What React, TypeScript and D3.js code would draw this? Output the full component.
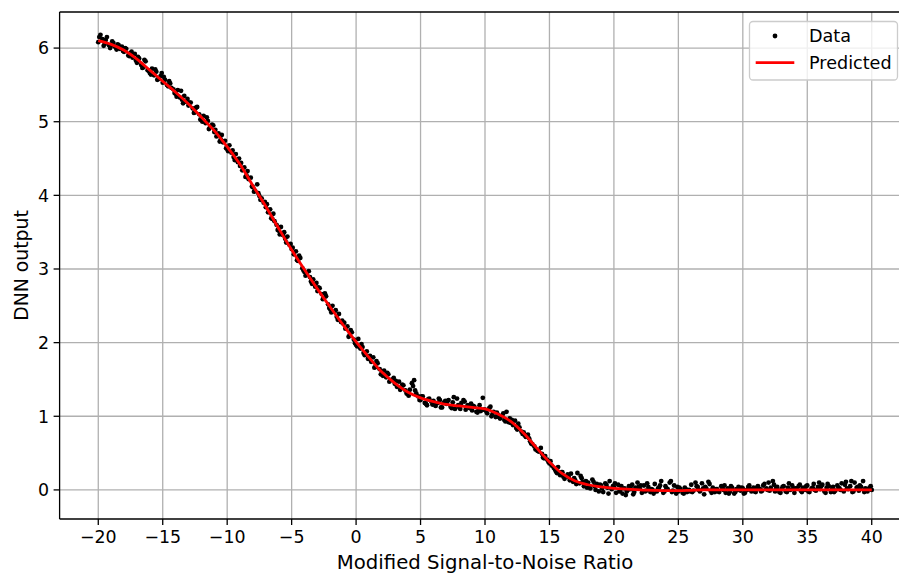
import React from "react";
import * as d3 from "d3";

// Measured samples: x = modified SNR, y = network output
const dataX: number[] = [];
const dataY: number[] = [];

const sampleUnits = [
  -20, -19, -18, -17, -16, -15, -14, -13, -12, -11, -10, -9, -8, -7, -6, -5, -4, -3, -2, -1,
  0, 1, 2, 3, 4, 5, 6, 7, 8, 9, 10, 11, 12, 13, 14, 15, 16, 17, 18, 19,
  20, 21, 22, 23, 24, 25, 26, 27, 28, 29, 30, 31, 32, 33, 34, 35, 36, 37, 38, 39,
];

// First sweep: six samples per unit of SNR
const sweepAOffsets = [0, 0.17, 0.33, 0.5, 0.67, 0.83];
const sweepA: number[][] = [
  [6.08, 6.18, 6.12, 6.06, 6.15, 6.04],
  [6.03, 6.07, 6.01, 6.05, 5.99, 6.02],
  [5.95, 5.99, 5.90, 5.93, 5.87, 5.92],
  [5.80, 5.86, 5.77, 5.74, 5.82, 5.70],
  [5.66, 5.72, 5.63, 5.68, 5.58, 5.62],
  [5.53, 5.57, 5.50, 5.55, 5.46, 5.44],
  [5.38, 5.43, 5.33, 5.30, 5.35, 5.27],
  [5.22, 5.26, 5.18, 5.13, 5.20, 5.10],
  [5.02, 5.08, 4.98, 5.01, 4.93, 4.96],
  [4.86, 4.80, 4.84, 4.76, 4.72, 4.74],
  [4.63, 4.68, 4.58, 4.52, 4.56, 4.45],
  [4.40, 4.34, 4.38, 4.27, 4.22, 4.24],
  [4.11, 4.06, 4.15, 3.99, 3.96, 3.90],
  [3.84, 3.77, 3.81, 3.68, 3.65, 3.60],
  [3.52, 3.57, 3.46, 3.41, 3.44, 3.33],
  [3.27, 3.20, 3.24, 3.11, 3.15, 3.01],
  [2.96, 2.93, 2.97, 2.83, 2.86, 2.76],
  [2.70, 2.74, 2.66, 2.60, 2.63, 2.52],
  [2.45, 2.50, 2.42, 2.35, 2.39, 2.28],
  [2.26, 2.19, 2.22, 2.10, 2.14, 2.04],
  [1.97, 2.05, 1.92, 1.94, 1.83, 1.88],
  [1.78, 1.74, 1.80, 1.67, 1.72, 1.64],
  [1.58, 1.62, 1.53, 1.57, 1.49, 1.50],
  [1.44, 1.40, 1.47, 1.38, 1.42, 1.35],
  [1.30, 1.36, 1.45, 1.49, 1.31, 1.27],
  [1.22, 1.27, 1.18, 1.15, 1.24, 1.20],
  [1.21, 1.14, 1.18, 1.22, 1.12, 1.19],
  [1.17, 1.22, 1.13, 1.19, 1.10, 1.24],
  [1.12, 1.18, 1.22, 1.09, 1.15, 1.11],
  [1.08, 1.13, 1.06, 1.10, 1.07, 1.25],
  [1.09, 1.04, 1.11, 1.00, 1.06, 0.99],
  [1.02, 0.97, 1.01, 0.95, 1.06, 0.92],
  [0.91, 0.88, 0.94, 0.82, 0.85, 0.79],
  [0.78, 0.72, 0.75, 0.66, 0.62, 0.59],
  [0.55, 0.52, 0.57, 0.44, 0.46, 0.41],
  [0.36, 0.33, 0.30, 0.25, 0.31, 0.20],
  [0.24, 0.15, 0.19, 0.17, 0.22, 0.11],
  [0.13, 0.23, 0.09, 0.16, 0.05, 0.12],
  [0.10, 0.02, 0.14, 0.05, 0.08, -0.02],
  [0.06, -0.03, 0.09, 0.03, 0.12, 0.01],
  [0.04, -0.04, 0.07, 0.00, -0.05, 0.02],
  [-0.02, 0.05, 0.01, -0.06, 0.03, 0.10],
  [0.02, -0.04, 0.06, -0.01, 0.04, -0.03],
  [0.00, 0.08, -0.02, 0.03, 0.12, -0.04],
  [0.05, 0.01, 0.10, -0.03, 0.06, -0.05],
  [-0.02, 0.01, -0.04, 0.03, -0.03, 0.00],
  [0.07, -0.01, 0.10, 0.04, -0.02, 0.09],
  [-0.06, 0.02, 0.11, -0.01, 0.03, -0.03],
  [0.01, -0.03, 0.05, 0.00, -0.04, 0.02],
  [-0.02, 0.03, -0.05, 0.01, 0.04, -0.01],
  [0.02, -0.04, 0.00, 0.06, -0.02, 0.03],
  [-0.03, 0.05, 0.01, -0.01, 0.08, 0.02],
  [0.10, 0.03, 0.12, -0.02, 0.04, -0.03],
  [0.01, 0.05, -0.02, 0.03, 0.00, 0.06],
  [-0.04, 0.02, 0.05, -0.01, 0.03, 0.00],
  [0.06, -0.03, 0.02, 0.08, -0.01, 0.04],
  [0.01, 0.07, -0.02, 0.03, 0.05, -0.03],
  [0.04, -0.01, 0.06, 0.02, 0.09, -0.02],
  [0.11, 0.01, 0.05, -0.03, 0.10, 0.03],
  [-0.01, 0.04, 0.12, 0.02, -0.02, 0.03],
];

// Second sweep: four samples per unit of SNR, interleaved with the first
const sweepBOffsets = [0.08, 0.42, 0.58, 0.92];
const sweepB: number[][] = [
  [6.15, 6.03, 6.11, 6.00],
  [6.09, 5.98, 6.04, 5.96],
  [6.00, 5.89, 5.95, 5.83],
  [5.88, 5.73, 5.84, 5.69],
  [5.64, 5.71, 5.57, 5.66],
  [5.61, 5.48, 5.52, 5.39],
  [5.34, 5.42, 5.25, 5.31],
  [5.26, 5.12, 5.19, 5.03],
  [5.00, 5.06, 4.90, 4.95],
  [4.89, 4.73, 4.82, 4.64],
  [4.60, 4.61, 4.48, 4.50],
  [4.44, 4.25, 4.33, 4.12],
  [4.05, 4.03, 3.94, 3.91],
  [3.88, 3.69, 3.75, 3.53],
  [3.47, 3.50, 3.36, 3.34],
  [3.29, 3.12, 3.18, 2.98],
  [2.91, 2.89, 2.80, 2.81],
  [2.75, 2.59, 2.67, 2.47],
  [2.41, 2.44, 2.31, 2.30],
  [2.27, 2.08, 2.17, 1.99],
  [1.95, 1.98, 1.86, 1.78],
  [1.82, 1.66, 1.75, 1.57],
  [1.55, 1.59, 1.47, 1.52],
  [1.48, 1.36, 1.43, 1.31],
  [1.28, 1.41, 1.35, 1.22],
  [1.27, 1.17, 1.23, 1.16],
  [1.16, 1.24, 1.12, 1.21],
  [1.20, 1.11, 1.26, 1.15],
  [1.10, 1.20, 1.13, 1.17],
  [1.14, 1.05, 1.15, 1.09],
  [1.07, 1.13, 1.03, 1.05],
  [0.99, 1.04, 0.93, 0.97],
  [0.95, 0.84, 0.90, 0.76],
  [0.74, 0.70, 0.63, 0.55],
  [0.53, 0.49, 0.43, 0.38],
  [0.39, 0.28, 0.23, 0.24],
  [0.18, 0.21, 0.13, 0.16],
  [0.08, 0.19, 0.11, 0.03],
  [0.04, 0.11, 0.00, 0.07],
  [0.02, 0.07, -0.05, 0.05],
  [0.09, -0.02, 0.05, -0.07],
  [0.00, 0.07, -0.03, 0.04],
  [0.06, -0.02, 0.09, 0.01],
  [-0.05, 0.02, 0.06, -0.02],
  [0.02, 0.12, -0.01, 0.04],
  [0.03, -0.05, 0.01, -0.02],
  [-0.03, 0.05, 0.00, 0.02],
  [0.04, 0.08, -0.04, 0.01],
  [-0.02, 0.02, 0.06, -0.05],
  [0.05, -0.03, 0.00, 0.03],
  [-0.05, 0.04, 0.01, -0.02],
  [0.03, -0.02, 0.06, 0.00],
  [-0.01, 0.07, 0.02, -0.04],
  [0.04, -0.03, 0.09, 0.02],
  [0.02, 0.07, -0.03, 0.05],
  [-0.02, 0.03, 0.00, 0.10],
  [0.05, -0.04, 0.08, 0.01],
  [-0.03, 0.03, 0.00, 0.07],
  [0.02, 0.12, -0.02, 0.04],
  [0.06, -0.03, 0.01, 0.05],
];
const lastSample = { x: 40, y: 0.0 };

sampleUnits.forEach((u, i) => {
  sweepAOffsets.forEach((o, j) => {
    dataX.push(u + o);
    dataY.push(sweepA[i][j]);
  });
  sweepBOffsets.forEach((o, j) => {
    dataX.push(u + o);
    dataY.push(sweepB[i][j]);
  });
});
dataX.push(lastSample.x);
dataY.push(lastSample.y);

// Network prediction, sampled once per unit of SNR
const predX = [
  -20, -19, -18, -17, -16, -15, -14, -13, -12, -11, -10, -9, -8, -7, -6, -5, -4, -3, -2, -1,
  0, 1, 2, 3, 4, 5, 6, 7, 8, 9, 10, 11, 12, 13, 14, 15, 16, 17, 18, 19,
  20, 21, 22, 23, 24, 25, 26, 27, 28, 29, 30, 31, 32, 33, 34, 35, 36, 37, 38, 39, 40,
];
const predY = [
  6.1, 6.05, 5.97, 5.85, 5.7, 5.55, 5.4, 5.24, 5.06, 4.88, 4.66, 4.42, 4.13, 3.85, 3.55, 3.26, 2.99, 2.73, 2.48, 2.24,
  2.01, 1.8, 1.6, 1.45, 1.33, 1.25, 1.2, 1.16, 1.14, 1.12, 1.1, 1.03, 0.93, 0.77, 0.57, 0.38, 0.22, 0.12, 0.07, 0.04,
  0.02, 0.01, 0.0, -0.005, -0.01, -0.01, -0.005, 0.0, 0.0, 0.0, 0.0, 0.0, 0.0, 0.0, 0.0, 0.0, 0.0, 0.0, 0.0, 0.0, 0.0,
];

const xTicks = [-20, -15, -10, -5, 0, 5, 10, 15, 20, 25, 30, 35, 40];
const yTicks = [0, 1, 2, 3, 4, 5, 6];
const legendLabels = ["Data", "Predicted"];

const W = 899;
const H = 575;
const plot = { left: 59.6, right: 910.4, top: 12, bottom: 519 };
const FONT = "'DejaVu Sans', sans-serif";

export default function App() {
  const x = d3.scaleLinear().domain([-23, 43]).range([plot.left, plot.right]);
  const y = d3.scaleLinear().domain([-0.395, 6.49]).range([plot.bottom, plot.top]);

  const line = d3
    .line<number>()
    .x((_, i) => x(predX[i]))
    .y((d) => y(d))
    .curve(d3.curveCatmullRom.alpha(0.5));

  const fmt = (v: number) => (v < 0 ? "\u2212" + Math.abs(v) : String(v));

  return (
    <svg
      width={W}
      height={H}
      style={{ position: "absolute", left: 0, top: 0, display: "block", background: "#fff" }}
      fontFamily={FONT}
    >
      <defs>
        <clipPath id="plotArea">
          <rect x={plot.left} y={plot.top} width={plot.right - plot.left} height={plot.bottom - plot.top} />
        </clipPath>
      </defs>
      <rect width={W} height={H} fill="#fff" />

      {/* grid */}
      <g stroke="#b0b0b0" strokeWidth={1.3}>
        {xTicks.map((t) => (
          <line key={"gx" + t} x1={x(t)} x2={x(t)} y1={plot.top} y2={plot.bottom} />
        ))}
        {yTicks.map((t) => (
          <line key={"gy" + t} x1={plot.left} x2={plot.right} y1={y(t)} y2={y(t)} />
        ))}
      </g>

      {/* samples */}
      <g clipPath="url(#plotArea)" fill="#000">
        {dataX.map((dx, i) => (
          <circle key={"p" + i} cx={x(dx)} cy={y(dataY[i])} r={2.4} />
        ))}
      </g>

      {/* prediction */}
      <path
        d={line(predY) || ""}
        fill="none"
        stroke="#ff0000"
        strokeWidth={2.8}
        strokeLinejoin="round"
        clipPath="url(#plotArea)"
      />

      {/* spines */}
      <g stroke="#000" strokeWidth={1.3} fill="none">
        <line x1={plot.left} x2={plot.left} y1={plot.top} y2={plot.bottom} />
        <line x1={plot.left} x2={plot.right} y1={plot.bottom} y2={plot.bottom} />
        <line x1={plot.left} x2={plot.right} y1={plot.top} y2={plot.top} />
        <line x1={plot.right} x2={plot.right} y1={plot.top} y2={plot.bottom} />
      </g>

      {/* x axis */}
      <g fontSize={17.4} fill="#000" textAnchor="middle">
        {xTicks.map((t) => (
          <g key={"tx" + t}>
            <line x1={x(t)} x2={x(t)} y1={plot.bottom} y2={plot.bottom + 6} stroke="#000" strokeWidth={1.3} />
            <text x={x(t)} y={543.3}>
              {fmt(t)}
            </text>
          </g>
        ))}
      </g>
      <text x={(plot.left + plot.right) / 2} y={569} textAnchor="middle" fontSize={19.7} fill="#000">
        Modified Signal-to-Noise Ratio
      </text>

      {/* y axis */}
      <g fontSize={17.4} fill="#000" textAnchor="end">
        {yTicks.map((t) => (
          <g key={"ty" + t}>
            <line x1={plot.left - 6} x2={plot.left} y1={y(t)} y2={y(t)} stroke="#000" strokeWidth={1.3} />
            <text x={49} y={y(t) + 6.3}>
              {fmt(t)}
            </text>
          </g>
        ))}
      </g>
      <text
        transform={`translate(28.3, ${(plot.top + plot.bottom) / 2}) rotate(-90)`}
        textAnchor="middle"
        fontSize={18.8}
        fill="#000"
      >
        DNN output
      </text>

      {/* legend */}
      <g>
        <rect x={749.5} y={21.5} width={148} height={58.5} rx={3.5} fill="#fff" fillOpacity={0.8} stroke="#cccccc" strokeWidth={1.3} />
        <circle cx={775} cy={36} r={2.4} fill="#000" />
        <line x1={755.7} x2={794.3} y1={62.7} y2={62.7} stroke="#ff0000" strokeWidth={2.8} />
        <g fontSize={17.6} fill="#000">
          <text x={809} y={42.3}>
            {legendLabels[0]}
          </text>
          <text x={809} y={69.3}>
            {legendLabels[1]}
          </text>
        </g>
      </g>
    </svg>
  );
}
